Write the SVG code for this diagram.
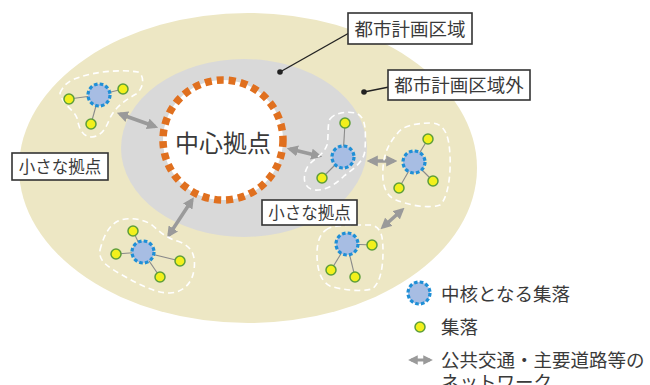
<svg xmlns="http://www.w3.org/2000/svg" width="650" height="385" viewBox="0 0 650 385">
<style>
.t{font-family:"Noto Sans CJK JP","Noto Sans",sans-serif;fill:#3a3a3a}
.box{fill:#fff;stroke:#333;stroke-width:1.6}
.lead{stroke:#222;stroke-width:1.4;fill:none}
.blob{fill:none;stroke:#fff;stroke-width:1.6;stroke-dasharray:6 4;stroke-linejoin:round}
.link{stroke:#8a8a8a;stroke-width:1.1}
.hub{fill:#a7bde3;stroke:#1f8fd6;stroke-width:3.2;stroke-dasharray:3.6 2.2}
.sat{fill:#f2f01c;stroke:#5e9e3a;stroke-width:1.5}
.arr{stroke:#9a9a9a;stroke-width:3.5;marker-start:url(#ah);marker-end:url(#ah)}
</style>
<defs>
<marker id="ah" viewBox="0 0 10 10" refX="7" refY="5" markerWidth="3.2" markerHeight="3.2" orient="auto-start-reverse" markerUnits="strokeWidth">
<path d="M0,0 L10,5 L0,10 z" fill="#9a9a9a"/>
</marker>
</defs>
<rect width="650" height="385" fill="#fff"/>
<g id="outside-area"><ellipse cx="248" cy="168" rx="229" ry="155" fill="#ede7c4"/></g>
<g id="city-area"><ellipse cx="244" cy="148" rx="123" ry="89" fill="#d9d9d9"/></g>

<g id="connectors">
<line class="arr" x1="120" y1="114" x2="155" y2="126.5"/>
<line class="arr" x1="290" y1="149" x2="319" y2="156"/>
<line class="arr" x1="370" y1="161" x2="394" y2="161"/>
<line class="arr" x1="383" y1="227" x2="402" y2="210"/>
<line class="arr" x1="169" y1="235" x2="192" y2="200"/>
</g>

<g id="center-hub">
<circle cx="223" cy="140" r="60" fill="#fff" stroke="#e0701f" stroke-width="7.5" stroke-dasharray="7 5"/>
<text class="t" x="223" y="152" font-size="24" text-anchor="middle">中心拠点</text>
</g>

<g id="cluster-a">
<path class="blob" d="M60,93 C64,84 70,80 80,77 C95,72 120,69 138,72 C145,76 144,88 136,94 C126,100 116,106 110,118 C106,128 102,136 92,137 C82,137 79,128 77,118 C74,110 62,104 60,93 Z"/>
<line class="link" x1="99" y1="95" x2="69" y2="99"/><line class="link" x1="99" y1="95" x2="123" y2="89"/><line class="link" x1="99" y1="95" x2="91" y2="124"/>
<circle class="hub" cx="99" cy="95" r="11"/>
<circle class="sat" cx="69" cy="99" r="5"/><circle class="sat" cx="123" cy="89" r="5"/><circle class="sat" cx="91" cy="124" r="5"/>
</g>

<g id="cluster-b">
<path class="blob" d="M330,119 C334,113 346,111 356,113 C366,117 366,130 365,150 C364,162 354,168 344,176 C336,184 326,191 314,190 C303,188 302,176 308,166 C314,158 323,156 327,145 C329,136 327,125 330,119 Z"/>
<line class="link" x1="343" y1="157" x2="345" y2="123"/><line class="link" x1="343" y1="157" x2="322" y2="178"/>
<circle class="hub" cx="343" cy="157" r="11"/>
<circle class="sat" cx="345" cy="123" r="5"/><circle class="sat" cx="322" cy="178" r="5"/>
</g>

<g id="cluster-c">
<path class="blob" d="M397,134 C402,126 415,123 432,123 C446,124 449,138 450,155 C451,175 448,198 440,205 C428,209 408,205 396,200 C384,195 382,182 383,168 C384,152 390,142 397,134 Z"/>
<line class="link" x1="414" y1="162" x2="428" y2="139"/><line class="link" x1="414" y1="162" x2="433" y2="181"/><line class="link" x1="414" y1="162" x2="399" y2="188"/>
<circle class="hub" cx="414" cy="162" r="11"/>
<circle class="sat" cx="428" cy="139" r="5"/><circle class="sat" cx="433" cy="181" r="5"/><circle class="sat" cx="399" cy="188" r="5"/>
</g>

<g id="cluster-d">
<path class="blob" d="M326,230 C332,225 345,225 372,225 C382,228 383,238 383,252 C383,268 380,284 372,289 C360,292 342,290 330,286 C320,281 317,268 317,254 C317,242 320,234 326,230 Z"/>
<line class="link" x1="347" y1="244" x2="372" y2="245"/><line class="link" x1="347" y1="244" x2="331" y2="270"/><line class="link" x1="347" y1="244" x2="355" y2="277"/>
<circle class="hub" cx="347" cy="244" r="11"/>
<circle class="sat" cx="372" cy="245" r="5"/><circle class="sat" cx="331" cy="270" r="5"/><circle class="sat" cx="355" cy="277" r="5"/>
</g>

<g id="cluster-e">
<path class="blob" d="M100,250 C103,238 108,226 118,221 C128,217 142,218 152,225 C160,232 166,238 180,242 C192,247 196,256 194,270 C192,283 184,292 170,293 C155,293 140,285 124,276 C110,268 98,262 100,250 Z"/>
<line class="link" x1="143" y1="252" x2="133" y2="231"/><line class="link" x1="143" y1="252" x2="116" y2="254"/><line class="link" x1="143" y1="252" x2="180" y2="261"/><line class="link" x1="143" y1="252" x2="160" y2="277"/>
<circle class="hub" cx="143" cy="252" r="11"/>
<circle class="sat" cx="133" cy="231" r="5"/><circle class="sat" cx="116" cy="254" r="5"/><circle class="sat" cx="180" cy="261" r="5"/><circle class="sat" cx="160" cy="277" r="5"/>
</g>

<g id="label-city-area">
<line class="lead" x1="280" y1="72" x2="349" y2="33"/>
<circle cx="280" cy="72" r="2.8" fill="#222"/>
<rect class="box" x="348" y="13" width="124" height="31"/>
<text class="t" x="410" y="35.5" font-size="18.5" text-anchor="middle">都市計画区域</text>
</g>
<g id="label-outside-area">
<line class="lead" x1="364" y1="92" x2="389" y2="87"/>
<circle cx="364" cy="92" r="2.8" fill="#222"/>
<rect class="box" x="388" y="70" width="142" height="30"/>
<text class="t" x="459" y="92" font-size="18.5" text-anchor="middle">都市計画区域外</text>
</g>
<g id="label-small-left">
<rect class="box" x="12" y="153" width="96" height="27"/>
<text class="t" x="60" y="172.5" font-size="16.5" text-anchor="middle">小さな拠点</text>
</g>
<g id="label-small-mid">
<rect class="box" x="262" y="200" width="95" height="25"/>
<text class="t" x="309.5" y="218.5" font-size="16.5" text-anchor="middle">小さな拠点</text>
</g>

<g id="legend">
<circle class="hub" cx="419" cy="293" r="11"/>
<text class="t" x="441" y="301" font-size="18.5">中核となる集落</text>
<circle class="sat" cx="420" cy="327" r="5"/>
<text class="t" x="441" y="334" font-size="18.5">集落</text>
<line class="arr" x1="411" y1="360" x2="430" y2="360" style="stroke-width:3"/>
<text class="t" x="441" y="367" font-size="18.5">公共交通・主要道路等の</text>
<text class="t" x="441" y="389" font-size="18.5">ネットワーク</text>
</g>
</svg>
